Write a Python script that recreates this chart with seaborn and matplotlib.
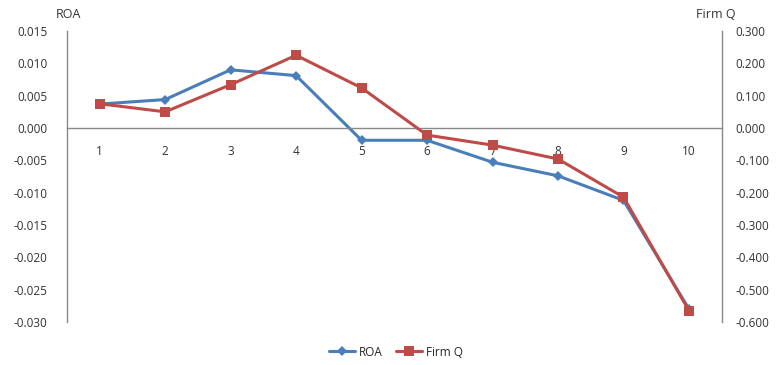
import pandas as pd
import matplotlib.pyplot as plt
import matplotlib.ticker as mticker
import seaborn as sns

# ─────────────────────────────────────────────
# ROA vs Firm Q by decile — dual-axis line chart
# ─────────────────────────────────────────────

ROA_COLOR = "#4A7EBB"
Q_COLOR   = "#BE4B48"
AXIS_GREY = "#888888"

groups = [1, 2, 3, 4, 5, 6, 7, 8, 9, 10]
roa    = [0.0037, 0.0044, 0.0090, 0.0081, -0.0019, -0.0019, -0.0053, -0.0074, -0.0112, -0.0280]
firm_q = [0.075, 0.050, 0.134, 0.225, 0.124, -0.022, -0.053, -0.096, -0.214, -0.565]

roa_ticks = [0.015, 0.010, 0.005, 0.000, -0.005, -0.010, -0.015, -0.020, -0.025, -0.030]
q_ticks   = [0.300, 0.200, 0.100, 0.000, -0.100, -0.200, -0.300, -0.400, -0.500, -0.600]

df = pd.DataFrame({"group": groups, "ROA": roa, "Firm Q": firm_q})

sns.set_style("white")
plt.rcParams["font.family"] = ["Open Sans", "DejaVu Sans"]

fig = plt.figure(figsize=(7.76, 3.65), dpi=100)
ax = fig.add_axes([0.0863, 0.118, 0.8437, 0.797])
ax2 = ax.twinx()

sns.lineplot(data=df, x="group", y="ROA", ax=ax, color=ROA_COLOR,
             marker="D", markersize=5.5, markeredgewidth=0, linewidth=2.2,
             label="ROA", legend=False)
sns.lineplot(data=df, x="group", y="Firm Q", ax=ax2, color=Q_COLOR,
             marker="s", markersize=7.5, markeredgewidth=0, linewidth=2.2,
             label="Firm Q", legend=False)

ax.set_xlim(0.5, 10.5)
ax.set_ylim(min(roa_ticks), max(roa_ticks))
ax2.set_ylim(min(q_ticks), max(q_ticks))
ax.set_yticks(roa_ticks)
ax2.set_yticks(q_ticks)
ax.yaxis.set_major_formatter(mticker.FormatStrFormatter("%.3f"))
ax2.yaxis.set_major_formatter(mticker.FormatStrFormatter("%.3f"))
ax.set_xticks(groups)
ax.set_xticklabels([str(g) for g in groups])

# category axis sits at zero, labels just under it
ax.spines["bottom"].set_position(("data", 0))
for a in (ax, ax2):
    for s in ("top",):
        a.spines[s].set_visible(False)
    for s in ("left", "right", "bottom"):
        a.spines[s].set_color(AXIS_GREY)
        a.spines[s].set_linewidth(1.0)
ax2.spines["bottom"].set_visible(False)
ax2.spines["left"].set_visible(False)
ax.spines["right"].set_visible(False)

ax.tick_params(axis="x", length=0, pad=12, labelsize=8.5, colors="#333333")
ax.tick_params(axis="y", length=0, pad=14, labelsize=8.5, colors="#333333")
ax2.tick_params(axis="y", length=0, pad=10, labelsize=8.5, colors="#333333")
ax.set_xlabel("")
ax.set_ylabel("")
ax2.set_ylabel("")

fig.text(68 / 776, 1 - 14 / 365, "ROA", ha="center", va="center",
         fontsize=9, color="#333333")
fig.text(716 / 776, 1 - 14 / 365, "Firm Q", ha="center", va="center",
         fontsize=9, color="#333333")

h1, l1 = ax.get_legend_handles_labels()
h2, l2 = ax2.get_legend_handles_labels()
fig.legend(h1 + h2, l1 + l2, loc="center", bbox_to_anchor=(396 / 776, 1 - 352 / 365),
           ncol=2, frameon=False, fontsize=8.5, handlelength=2.2,
           columnspacing=1.2, handletextpad=0.3)

plt.savefig("out.png", dpi=100)
plt.close()
